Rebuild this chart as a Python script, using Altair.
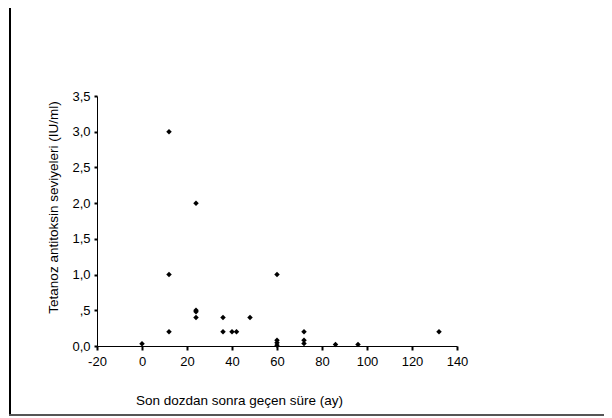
import altair as alt
import pandas as pd

months = [0, 12, 12, 12, 24, 24, 24, 24, 36, 36, 40, 42, 48, 60, 60, 60, 60, 72, 72, 72, 86, 96, 132]
levels = [0.03, 3.0, 1.0, 0.2, 2.0, 0.5, 0.48, 0.4, 0.4, 0.2, 0.2, 0.2, 0.4, 1.0, 0.08, 0.045, 0.01, 0.2, 0.08, 0.035, 0.02, 0.02, 0.2]

x_ticks = [-20, 0, 20, 40, 60, 80, 100, 120, 140]
y_ticks = [0.0, 0.5, 1.0, 1.5, 2.0, 2.5, 3.0, 3.5]

df = pd.DataFrame({"ay": months, "seviye": levels})

FONT = "Liberation Sans"

points = alt.Chart(df).mark_point(shape="diamond", filled=True, color="black", size=30, opacity=1).encode(
    x=alt.X("ay:Q",
            scale=alt.Scale(domain=[-20, 140], nice=False, zero=False),
            axis=alt.Axis(values=x_ticks, title="Son dozdan sonra geçen süre (ay)",
                          labelExpr="replace(datum.label, '−', '-')",
                          grid=False, domainColor="black", tickColor="black",
                          tickSize=4, tickWidth=2, labelPadding=5,
                          labelFont=FONT, labelFontSize=13, labelColor="black",
                          titleFont=FONT, titleFontSize=13.5, titleFontWeight="normal", titleColor="black",
                          titleX=142, titleY=54, titleAlign="center", titleBaseline="middle",
                          labelFlush=False, labelOverlap=False)),
    y=alt.Y("seviye:Q",
            scale=alt.Scale(domain=[0, 3.5], nice=False),
            axis=alt.Axis(values=y_ticks, title="Tetanoz antitoksin seviyeleri (IU/ml)",
                          labelExpr="datum.value == 0.5 ? ',5' : replace(format(datum.value, '.1f'), '.', ',')",
                          grid=False, domainColor="black", tickColor="black",
                          tickSize=3, tickWidth=2, labelPadding=4,
                          labelFont=FONT, labelFontSize=13, labelColor="black",
                          titleFont=FONT, titleFontSize=13.5, titleFontWeight="normal", titleColor="black",
                          titleX=-44, titleY=111, titleAngle=270, titleAlign="center", titleBaseline="middle",
                          labelFlush=False, labelOverlap=False)),
)

frame_left = alt.Chart(df).mark_rule(color="black", strokeWidth=2).encode(
    x=alt.value(-87), y=alt.value(-100), y2=alt.value(320)
)
frame_bottom = alt.Chart(df).mark_rule(color="#555555", strokeWidth=2).encode(
    x=alt.value(-88), x2=alt.value(520), y=alt.value(319)
)

chart = alt.layer(frame_left, frame_bottom, points).properties(
    width=360, height=250,
    background="white",
    autosize=alt.AutoSizeParams(type="none"),
    padding={"left": 89, "top": 88, "right": 147, "bottom": 80},
).configure_view(stroke="transparent", strokeWidth=0)

chart.save("out.html", embed_options={"renderer": "svg", "actions": False})
